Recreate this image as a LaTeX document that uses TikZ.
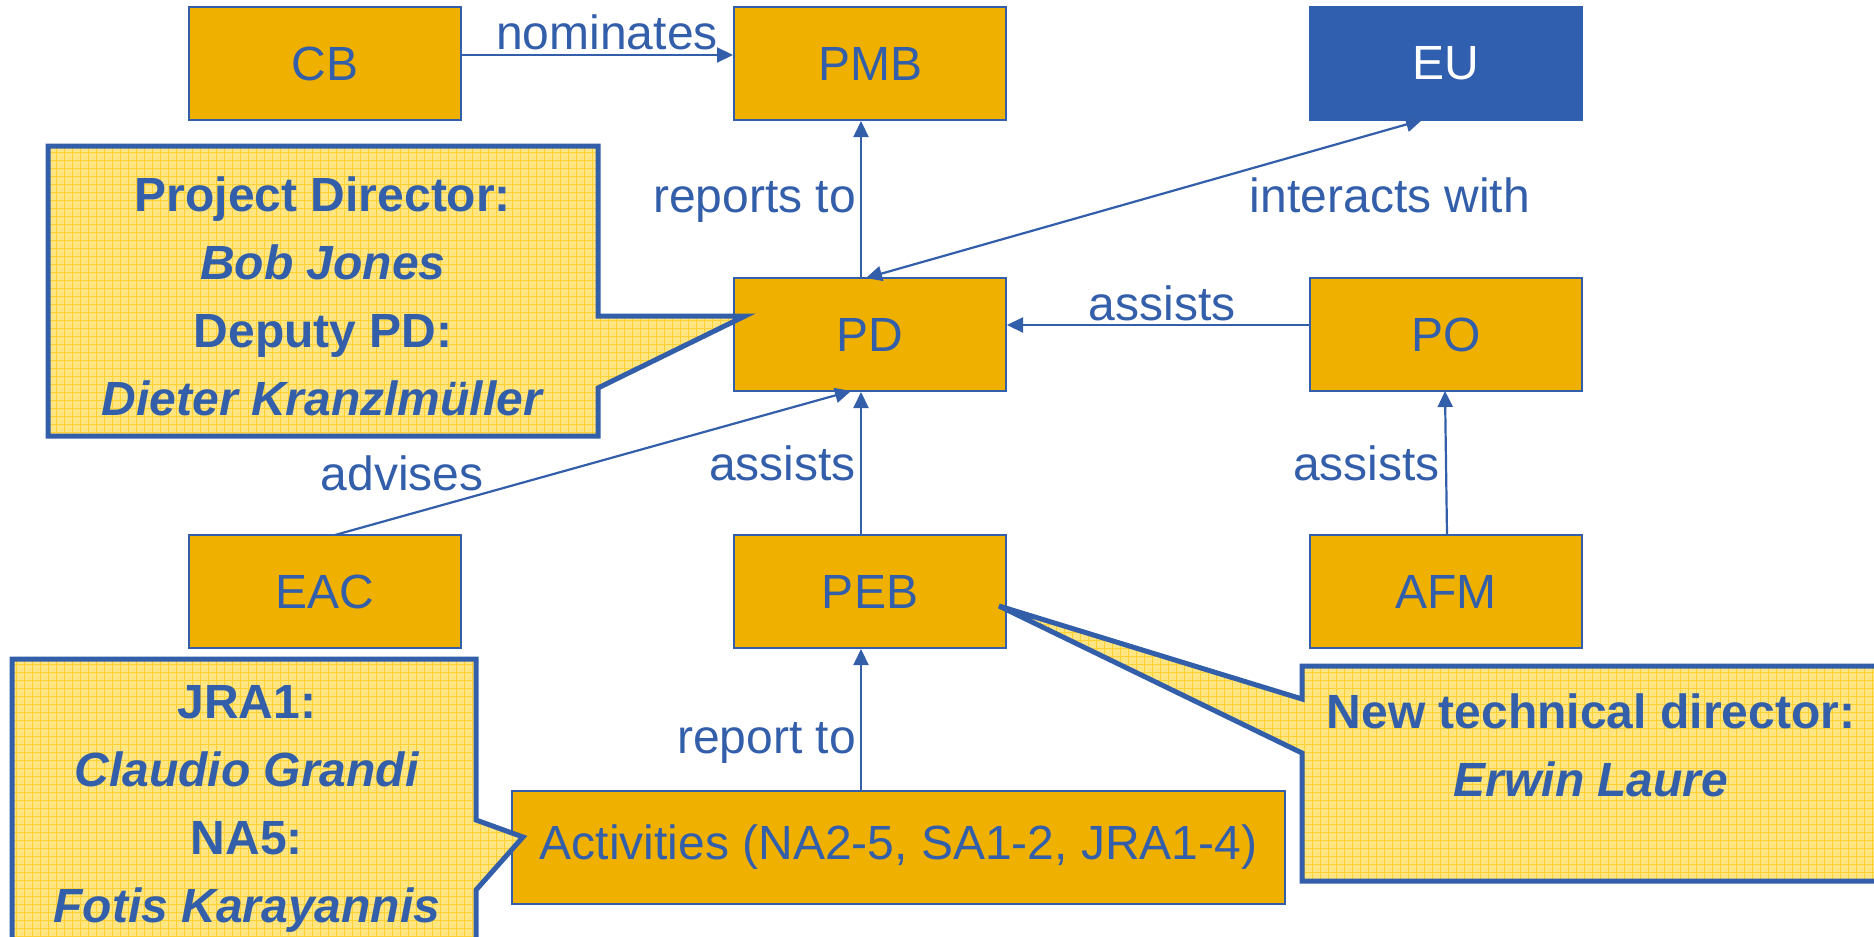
\documentclass[tikz,border=0pt]{standalone}
\usepackage{fontspec}
\setmainfont{Liberation Sans}
\usetikzlibrary{arrows.meta,calc}
\definecolor{tblue}{RGB}{50,94,170}
\definecolor{eublue}{RGB}{49,95,175}
\definecolor{boxfill}{RGB}{240,176,0}
\definecolor{callfill}{RGB}{255,230,130}
\definecolor{callgrid}{RGB}{255,208,50}
\begin{document}
\begin{tikzpicture}[x=1pt,y=-1pt,
  box/.style={draw=tblue,line width=2pt,fill=boxfill,minimum width=272pt,minimum height=113pt,inner sep=0pt,
    text=tblue,font=\fontsize{48}{58}\selectfont},
  conn/.style={draw=tblue,line width=2.2pt,-{Triangle[length=16pt,width=15pt]}},
  lbl/.style={text=tblue,font=\fontsize{48}{58}\selectfont,inner sep=0pt},
  calltext/.style={text=tblue,font=\fontsize{48}{68}\selectfont\bfseries,align=center,inner sep=0pt},
  callborder/.style={draw=tblue,line width=5pt,line join=miter},
  gridline/.style={callgrid,line width=0.7pt}]
\useasboundingbox (0,0) rectangle (1874,937);
\fill[white] (0,0) rectangle (1874,937);

% boxes
\node[box] (CB) at (325,63.5) {CB};
\node[box] (PMB) at (870,63.5) {PMB};
\node[box,fill=eublue,draw=eublue,text=white] (EU) at (1446,63.5) {EU};
\node[box] (PD) at (870,334.5) {PD};
\node[box] (PO) at (1446,334.5) {PO};
\node[box] (EAC) at (325,591.5) {EAC};
\node[box] (PEB) at (870,591.5) {PEB};
\node[box] (AFM) at (1446,591.5) {AFM};
\node[box,minimum width=773pt] (ACT) at (898.5,847.5) {Activities (NA2-5, SA1-2, JRA1-4)};

% callouts (drawn over the boxes)
\def\callA{(48,146) -- (598,146) -- (598,316) -- (745,316) -- (598,388) -- (598,436) -- (48,436) -- cycle}
\def\callB{(12,659) -- (476,659) -- (476,820) -- (523,837) -- (476,890) -- (476,950) -- (12,950) -- cycle}
\def\callC{(1302,666) -- (1890,666) -- (1890,881) -- (1302,881) -- (1302,753) -- (999,606) -- (1302,699) -- cycle}
\foreach \p in {\callA,\callB,\callC}{
  \begin{scope}
    \clip \p;
    \fill[callfill] (0,0) rectangle (1874,937);
    \foreach \g in {0,8,...,1880}{\draw[gridline] (\g,0) -- (\g,944);}
    \foreach \g in {0,8,...,944}{\draw[gridline] (0,\g) -- (1880,\g);}
  \end{scope}
  \draw[callborder] \p;
}

% callout texts
\node[calltext] (t1) at (323,296) {Project Director:\\\textit{Bob Jones}\\Deputy PD:\\\textit{Dieter Kranzlmüller}};
\node[calltext] (t2) at (247,809) {JRA1:\\\textit{Claudio Grandi}\\NA5:\\\textit{Fotis Karayannis}};
\node[calltext] (t3) at (1591,745) {New technical director:\\\textit{Erwin Laure}};

% connector helper coordinates
\coordinate (vx) at (861,0);
\coordinate (cby) at (0,55);
\coordinate (poy) at (0,325);
\coordinate (eaS) at (335,535);
\coordinate (eaT) at (851,391);
\coordinate (euS) at (1422,120);
\coordinate (euT) at (866,278);
\coordinate (afS) at (1447,535);
\coordinate (afT) at (1445,391);

% connectors
\draw[conn] (CB.east |- cby) -- (PMB.west |- cby);
\draw[conn] (PD.north -| vx) -- (PMB.south -| vx);
\draw[conn,{Triangle[length=16pt,width=15pt]}-{Triangle[length=16pt,width=15pt]}] (euS) -- (euT);
\draw[conn] (PO.west |- poy) -- (PD.east |- poy);
\draw[conn] (eaS) -- (eaT);
\draw[conn] (PEB.north -| vx) -- (PD.south -| vx);
\draw[conn] (afS) -- (afT);
\draw[conn] (ACT.north -| vx) -- (PEB.south -| vx);

% labels
\node[lbl,anchor=base] (l1) at (607,49) {nominates};
\node[lbl,anchor=base east] (l2) at (856,212) {reports to};
\node[lbl,anchor=base] (l3) at (1390,212) {interacts with};
\node[lbl,anchor=base] (l4) at (1162,320) {assists};
\node[lbl,anchor=base] (l5) at (402,490) {advises};
\node[lbl,anchor=base east] (l6) at (856,480) {assists};
\node[lbl,anchor=base east] (l7) at (1440,480) {assists};
\node[lbl,anchor=base east] (l8) at (856,753) {report to};
\end{tikzpicture}
\end{document}
